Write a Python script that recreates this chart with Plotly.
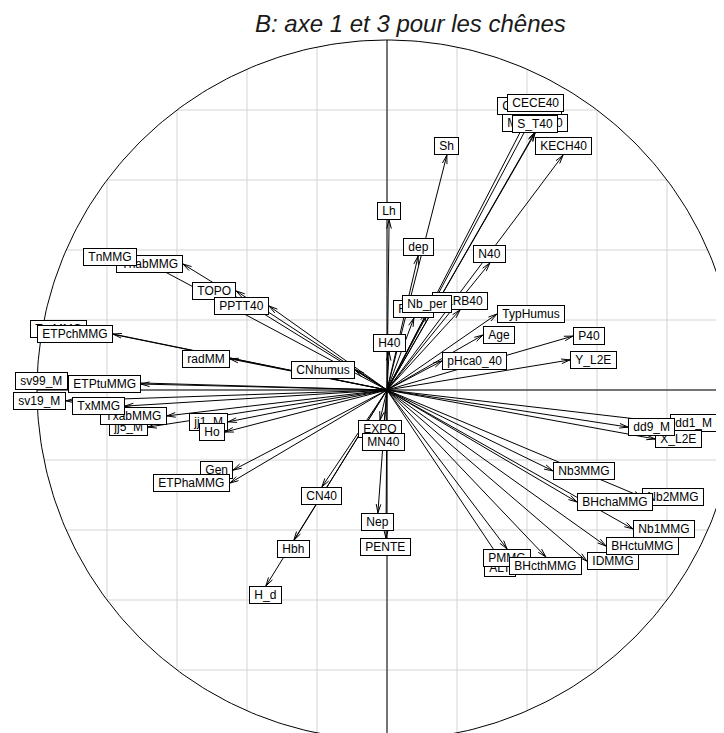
import numpy as np
import plotly.graph_objects as go

# ---------------- data (coordinates of variables on axes 1 and 3) ----------------
labels = [
    "TnabMMG", "TnMMG", "TOPO", "PPTT40", "TmMMG", "ETPchMMG", "radMM", "CNhumus",
    "sv99_M", "ETPtuMMG", "sv19_M", "jj5_M", "TxabMMG", "TxMMG", "jj1_M", "Ho",
    "Gen", "ETPhaMMG", "EXPO", "MN40", "CN40", "Hbh", "H_d", "Nep", "PENTE",
    "ALT", "PMMG", "BHcthMMG", "IDMMG", "Nb1MMG", "BHctuMMG", "Nb2MMG", "BHchaMMG",
    "Nb3MMG", "dd1_M", "X_L2E", "dd9_M", "Y_L2E", "P40", "pHca0_40", "Age",
    "TypHumus", "RU40", "CaRB40", "Nb_per", "H40", "dep", "Lh", "Sh", "N40",
    "CaECH40", "CECE40", "MgECH40", "S_T40", "KECH40",
]
axis1 = [
    -0.583, -0.714, -0.431, -0.337, -0.857, -0.783, -0.449, -0.091,
    -0.911, -0.703, -0.917, -0.683, -0.629, -0.749, -0.454, -0.463,
    -0.440, -0.449, -0.020, -0.011, -0.186, -0.266, -0.346, -0.026, -0.003,
    0.323, 0.343, 0.454, 0.571, 0.703, 0.626, 0.729, 0.543,
    0.474, 0.809, 0.766, 0.689, 0.523, 0.531, 0.157, 0.274,
    0.314, 0.077, 0.209, 0.114, 0.006, 0.089, 0.006, 0.171, 0.294,
    0.406, 0.423, 0.423, 0.423, 0.503,
]
axis3 = [
    0.360, 0.380, 0.283, 0.240, 0.174, 0.160, 0.089, 0.057,
    0.026, 0.017, -0.031, -0.106, -0.074, -0.046, -0.091, -0.120,
    -0.229, -0.266, -0.086, -0.123, -0.277, -0.429, -0.560, -0.351, -0.423,
    -0.483, -0.454, -0.477, -0.489, -0.397, -0.446, -0.306, -0.320,
    -0.231, -0.094, -0.140, -0.106, 0.086, 0.154, 0.083, 0.157,
    0.217, 0.206, 0.229, 0.220, 0.109, 0.383, 0.486, 0.671, 0.363,
    0.786, 0.794, 0.737, 0.734, 0.671,
]
title_text = "B: axe 1 et 3 pour les chênes"
grid_step = 0.2

# ---------------- layout constants ----------------
OFF = 8                              # default body margin of the html page
W, H = 724 - OFF, 733 - OFF          # figure size
CX, CY, R = 387 - OFF, 390 - OFF, 350  # centre / radius of the unit circle (figure px)
x_range = [(0 - CX) / R, (W - CX) / R]
y_range = [(CY - H) / R, CY / R]
FONT = "Liberation Sans, Arial, sans-serif"

fig = go.Figure()

# grid clipped to the circle
gx, gy = [], []
v = -1 + grid_step
while v < 1 - 1e-9:
    a = np.sqrt(max(0.0, 1 - v * v))
    gx += [v, v, None, -a, a, None]
    gy += [-a, a, None, v, v, None]
    v += grid_step
fig.add_trace(go.Scatter(x=gx, y=gy, mode="lines",
                         line=dict(color="#D3D3D3", width=1), hoverinfo="skip"))

# circle
t = np.linspace(0, 2 * np.pi, 400)
fig.add_trace(go.Scatter(x=np.cos(t), y=np.sin(t), mode="lines",
                         line=dict(color="black", width=1), hoverinfo="skip"))

# axes
fig.add_trace(go.Scatter(x=[-1, 1, None, 0, 0], y=[0, 0, None, -1, 1], mode="lines",
                         line=dict(color="black", width=1), hoverinfo="skip"))

# arrows
L = 9 / R
ang = np.deg2rad(15)
ax_, ay_ = [], []
for x, y in zip(axis1, axis3):
    ax_ += [0, x, None]
    ay_ += [0, y, None]
    th = np.arctan2(y, x)
    for s in (1, -1):
        ax_ += [x, x - L * np.cos(th + s * ang), None]
        ay_ += [y, y - L * np.sin(th + s * ang), None]
fig.add_trace(go.Scatter(x=ax_, y=ay_, mode="lines",
                         line=dict(color="black", width=1), hoverinfo="skip"))

# labels (boxes placed like ade4's scatterutil.eti.circ)
for lab, x, y in zip(labels, axis1, axis3):
    if x > y and x > -y:
        xa, ya = "left", "middle"
    elif x > y and x <= -y:
        xa, ya = "center", "top"
    elif x <= y and x <= -y:
        xa, ya = "right", "middle"
    else:
        xa, ya = "center", "bottom"
    fig.add_annotation(x=x, y=y, xref="x", yref="y",
                       text="\u00a0" + lab + "\u00a0", showarrow=False,
                       xanchor=xa, yanchor=ya,
                       font=dict(family=FONT, size=12, color="black"),
                       bgcolor="white", bordercolor="black",
                       borderwidth=1, borderpad=1)

# title
fig.add_annotation(x=(410 - OFF) / W, y=1 - (23 - OFF) / H, xref="paper", yref="paper",
                   text="<i>" + title_text + "</i>", showarrow=False,
                   xanchor="center", yanchor="middle",
                   font=dict(family=FONT, size=24, color="#1a1a1a"))

fig.update_layout(
    width=W, height=H, autosize=False,
    margin=dict(l=0, r=0, t=0, b=0),
    paper_bgcolor="white", plot_bgcolor="white",
    showlegend=False,
    xaxis=dict(range=x_range, visible=False, fixedrange=True),
    yaxis=dict(range=y_range, visible=False, fixedrange=True),
)

fig.write_html("out.html")
